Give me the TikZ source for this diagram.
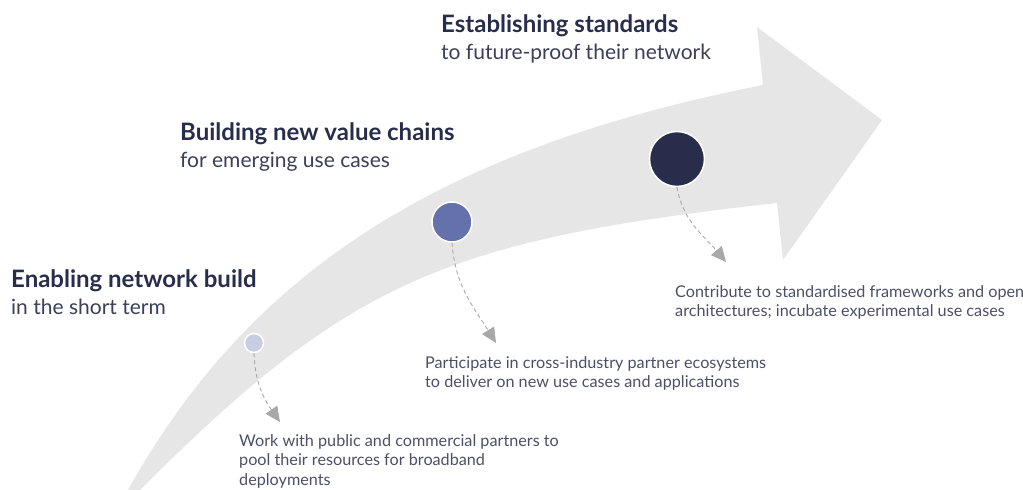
\documentclass[tikz,border=0pt]{standalone}
\usepackage{fontspec}
\setmainfont{Lato}
\usepackage{tikz}
\usetikzlibrary{arrows.meta, positioning, backgrounds}
\definecolor{navy}{HTML}{272D4B}
\definecolor{subnavy}{HTML}{3A3F5A}
\definecolor{notegray}{HTML}{4B5068}
\definecolor{arrowgray}{HTML}{E6E6E6}
\definecolor{linkgray}{HTML}{A8A8A8}
\definecolor{dotlight}{HTML}{C9CDE3}
\definecolor{dotmid}{HTML}{6571AB}

\begin{document}
\begin{tikzpicture}[
    x=1pt, y=1pt,
    heading/.style = {anchor=base west, inner sep=0pt, text=navy, font=\fontsize{24}{28}\selectfont\bfseries},
    subhead/.style = {anchor=base west, inner sep=0pt, text=subnavy, font=\fontsize{21}{25}\selectfont},
    note/.style = {anchor=base west, inner sep=0pt, align=left, text=notegray, font=\fontsize{16.2}{19.5}\selectfont},
    dot/.style = {circle, draw=white, line width=1.5pt, inner sep=0pt},
    link/.style = {dashed, dash pattern=on 4pt off 3pt, line width=0.9pt, draw=linkgray, -{Triangle[length=15pt, width=14pt, fill=linkgray]}}
]
    \useasboundingbox (0,0) rectangle (1023,490);

    % big curved arrow
    \fill[arrowgray] (128,0) .. controls (250,219) and (440,341) .. (763,405)
        -- (757,463) -- (882,370) -- (783,230) -- (777,287)
        .. controls (443,250) and (347,207) .. (140,0) -- cycle;

    % headings
    \node[heading] (h3) at (441,457) {Establishing standards};
    \node[subhead] (s3) at ([yshift=-27pt]h3.base west) {to future-proof their network};
    \node[heading] (h2) at (180,349) {Building new value chains};
    \node[subhead] (s2) at ([yshift=-27pt]h2.base west) {for emerging use cases};
    \node[heading] (h1) at (11,202) {Enabling network build};
    \node[subhead] (s1) at ([yshift=-27pt]h1.base west) {in the short term};

    % stage dots
    \node[dot, fill=dotlight, minimum size=19pt] (d1) at (254,147) {};
    \node[dot, fill=dotmid, minimum size=40pt] (d2) at (452,268) {};
    \node[dot, fill=navy, minimum size=55pt] (d3) at (677,331) {};

    % notes (base = last line)
    \node[note] (n1) at (239,5) {Work with public and commercial partners to\\pool their resources for broadband\\deployments};
    \node[note] (n2) at (425,102) {Participate in cross-industry partner ecosystems\\to deliver on new use cases and applications};
    \node[note] (n3) at (675,173) {Contribute to standardised frameworks and open\\architectures; incubate experimental use cases};

    % arrow tips above the notes
    \coordinate (t1) at (280,68);
    \coordinate (t2) at (496,147);
    \coordinate (t3) at (726,228);

    % dashed links
    \draw[link] (d1.south) to[out=-88, in=125] (t1);
    \draw[link] (d2.south) to[out=-86, in=122] (t2);
    \draw[link] (d3.south) to[out=-80, in=130] (t3);
\end{tikzpicture}
\end{document}
